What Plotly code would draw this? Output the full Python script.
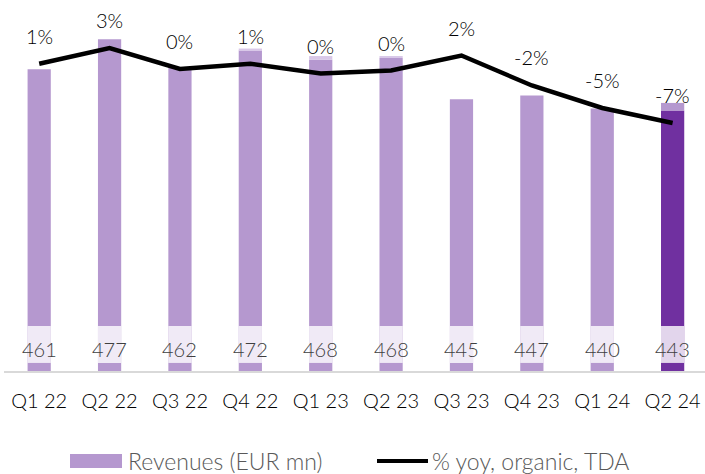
import plotly.graph_objects as go

# ---- data ----
quarters = ["Q1 22", "Q2 22", "Q3 22", "Q4 22", "Q1 23", "Q2 23", "Q3 23", "Q4 23", "Q1 24", "Q2 24"]
revenues = [461, 477, 462, 472, 468, 468, 445, 447, 440, 443]
top_part = [0, 0, 0, 1, 2, 1, 0, 0, 0, 4]
yoy_pct = [0.9, 3.0, 0.2, 0.9, -0.4, 0.0, 2.0, -2.0, -5.0, -7.0]
yoy_labels = ["1%", "3%", "0%", "1%", "0%", "0%", "2%", "-2%", "-5%", "-7%"]

# ---- styles ----
LIGHT = "#B598CF"
DARK = "#7030A0"
PALE = "#D9C8E8"
FONT = "Lato"
W, H = 705, 474
ML, MR, MT, MB = 4, 0, 0, 103

main_part = [r - t for r, t in zip(revenues, top_part)]
main_colors = [LIGHT] * (len(quarters) - 1) + [DARK]
top_colors = [PALE] * (len(quarters) - 1) + [LIGHT]

fig = go.Figure()
fig.add_trace(go.Bar(x=quarters, y=main_part, marker_color=main_colors, width=0.33,
                     marker_line_width=0, showlegend=False, hoverinfo="skip"))
fig.add_trace(go.Bar(x=quarters, y=top_part, base=main_part, marker_color=top_colors, width=0.33,
                     marker_line_width=0, showlegend=False, hoverinfo="skip"))
# white translucent label band
band_lo, band_h = 304.3, 19.7
fig.add_trace(go.Bar(x=quarters, y=[band_h] * len(quarters), base=[band_lo] * len(quarters),
                     marker_color="rgba(255,255,255,0.8)", width=0.33, marker_line_width=0,
                     showlegend=False, hoverinfo="skip"))
fig.add_trace(go.Scatter(x=quarters, y=yoy_pct, yaxis="y2", mode="lines",
                         line=dict(color="black", width=4.5), showlegend=False, hoverinfo="skip"))

ann = []
for q, r in zip(quarters, revenues):
    ann.append(dict(x=q, y=312.0, xref="x", yref="y", text=str(r), showarrow=False,
                    font=dict(family=FONT, size=20, color="#404040", weight=300)))
for q, v, t in zip(quarters, yoy_pct, yoy_labels):
    ann.append(dict(x=q, y=v, xref="x", yref="y2", text=t, showarrow=False, yshift=28,
                    font=dict(family=FONT, size=20, color="black", weight=300)))

pw = W - ML - MR
ph = H - MT - MB
def px_x(p):
    return (p - ML) / pw
def px_y(p):
    return (H - MB - p) / ph

shapes = [
    dict(type="rect", xref="paper", yref="paper", x0=px_x(70), x1=px_x(122), y0=px_y(468), y1=px_y(454),
         fillcolor=LIGHT, line_width=0),
    dict(type="line", xref="paper", yref="paper", x0=px_x(377), x1=px_x(428), y0=px_y(461), y1=px_y(461),
         line=dict(color="black", width=4)),
]
ann.append(dict(x=px_x(126), y=px_y(461), xref="paper", yref="paper", xanchor="left", yanchor="middle",
                text="Revenues (EUR mn)", showarrow=False,
                font=dict(family=FONT, size=23, color="#595959", weight=300)))
ann.append(dict(x=px_x(430), y=px_y(461), xref="paper", yref="paper", xanchor="left", yanchor="middle",
                text="% yoy, organic, TDA", showarrow=False,
                font=dict(family=FONT, size=23, color="#595959", weight=300)))

fig.update_layout(
    width=W, height=H, margin=dict(l=ML, r=MR, t=MT, b=MB),
    barmode="overlay", plot_bgcolor="white", paper_bgcolor="white",
    font=dict(family=FONT),
    xaxis=dict(range=[-0.5, 9.46], showline=True, linecolor="#D9D9D9", linewidth=2,
               ticks="outside", ticklen=11, tickcolor="rgba(0,0,0,0)",
               tickfont=dict(family=FONT, size=20, color="black", weight=300), showgrid=False),
    yaxis=dict(range=[300, 497.9], visible=False, showgrid=False),
    yaxis2=dict(range=[-40.07, 9.4], overlaying="y", visible=False, showgrid=False),
    annotations=ann, shapes=shapes,
)
fig.write_html("out.html", config={"displayModeBar": False},
               post_script="document.body.style.margin='0';document.body.style.overflow='hidden';")
